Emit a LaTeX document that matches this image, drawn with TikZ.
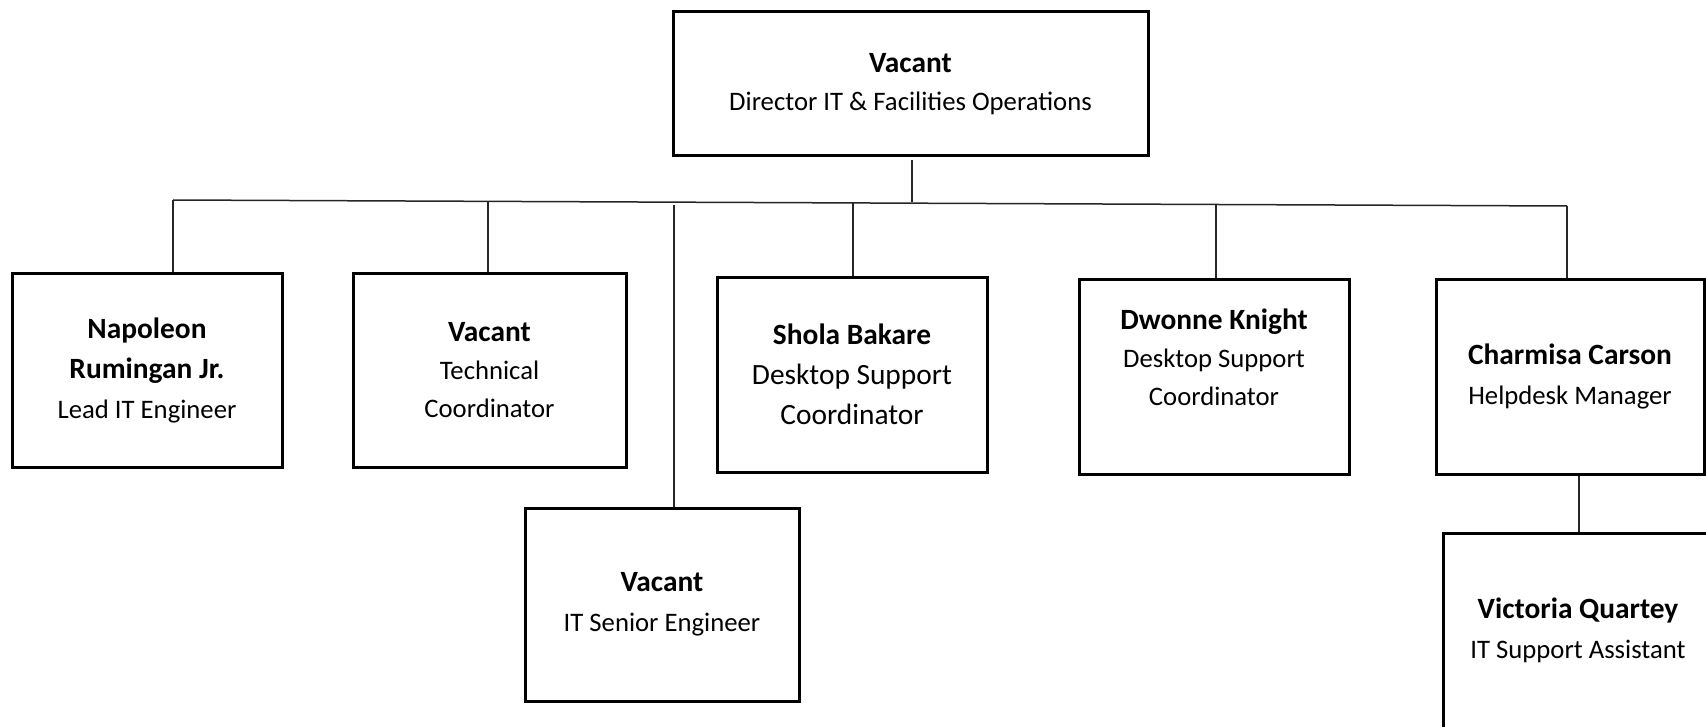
\documentclass[tikz,border=0pt]{standalone}
\usepackage{fontspec}
\setmainfont{Carlito}
\newcommand\pname[1]{{\fontsize{14.7}{20}\selectfont\bfseries #1}}
\begin{document}
\begin{tikzpicture}[x=0.5pt,y=-0.5pt,
  box/.style={draw=black,line width=1.5pt,inner sep=0pt,align=center,fill=white,font=\fontsize{13.35}{20}\selectfont},
  conn/.style={draw=black!85,line width=0.75pt}]
\clip (0,0) rectangle (1706,727);
\fill[white] (0,0) rectangle (1706,727);
% boxes
\node[box,minimum width=237.5pt,minimum height=72pt,font=\fontsize{13.35}{19}\selectfont] (dir) at (910.5,84) {\pname{Vacant}\\Director IT \& Facilities Operations};
\node[box,minimum width=135pt,minimum height=97pt] (nap) at (147,370) {\pname{Napoleon}\\\pname{Rumingan Jr.}\\Lead IT Engineer};
\node[box,minimum width=136.5pt,minimum height=97pt,font=\fontsize{13.35}{19}\selectfont] (tech) at (489.5,370) {\pname{Vacant}\\Technical\\Coordinator};
\node[box,minimum width=137pt,minimum height=96.5pt] (sen) at (662,604.5) {\pname{Vacant}\\IT Senior Engineer};
\node[box,minimum width=135pt,minimum height=97.5pt,font=\fontsize{14.7}{20}\selectfont] (shola) at (852,374.5) {\pname{Shola Bakare}\\Desktop Support\\Coordinator};
\node[box,minimum width=135pt,minimum height=97.5pt,font=\fontsize{13.35}{19}\selectfont] (dw) at (1214,376.5) {\pname{Dwonne Knight}\\Desktop Support\\Coordinator\\\mbox{}};
\node[box,minimum width=134pt,minimum height=97.5pt] (ch) at (1570,376.5) {\pname{Charmisa Carson}\\Helpdesk Manager};
\node[box,minimum width=135pt,minimum height=97.5pt] (vic) at (1578,630.5) {\pname{Victoria Quartey}\\IT Support Assistant};
% bus
\coordinate (busL) at (173,200);
\coordinate (busR) at (1567,206);
\coordinate (topS) at (912,160);
\coordinate (topE) at (912,202);
\draw[conn] (busL) -- (busR);
\draw[conn] (topS) -- (topE);
\draw[conn] (busL) -- (busL |- nap.north);
\coordinate (b2) at (488,201);
\draw[conn] (b2) -- (b2 |- tech.north);
\coordinate (b3) at (674,205);
\draw[conn] (b3) -- (b3 |- sen.north);
\coordinate (b4) at (853,203);
\draw[conn] (b4) -- (b4 |- shola.north);
\coordinate (b5) at (1216,205);
\draw[conn] (b5) -- (b5 |- dw.north);
\draw[conn] (busR) -- (busR |- ch.north);
\coordinate (b7) at (1579,476);
\draw[conn] (b7) -- (b7 |- vic.north);
\end{tikzpicture}
\end{document}
